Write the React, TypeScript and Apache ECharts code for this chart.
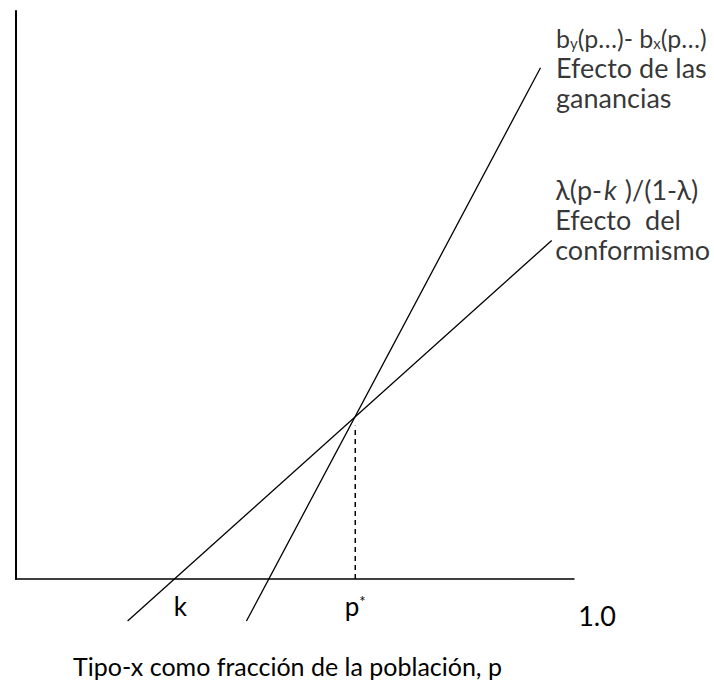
import React, { useEffect, useRef } from "react";
import * as echarts from "echarts";

// Values (p on x, effect on y)
const gananciasX = [0.413, 0.94];
const gananciasY = [-0.074, 0.9];
const conformismoX = [0.2, 0.96];
const conformismoY = [-0.074, 0.596];
const pStar = 0.608;
const pStarTop = 0.27;
const kValue = 0.284;
const tickValues = [kValue, pStar, 1.0];
const tickLabels = ["k", "p*", "1.0"];
const xTitle = "Tipo-x como fracción de la población, p";
const gananciasLabel = ["b_y(p…)- b_x(p…)", "Efecto de las", "ganancias"];
const conformismoLabel = ["λ(p-k )/(1-λ)", "Efecto  del", "conformismo"];

const FONT = "Lato, 'Noto Sans', 'DejaVu Sans', sans-serif";

function zip(xs: number[], ys: number[]) {
  return xs.map((x, i) => [x, ys[i]]);
}

export default function App() {
  const ref = useRef<HTMLDivElement>(null);
  useEffect(() => {
    if (!ref.current) return;
    const chart = echarts.init(ref.current, undefined, { renderer: "svg" });
    const makeRich = (lh: number) => ({
      t: { fontSize: 27, fontFamily: FONT, color: "#000", lineHeight: lh },
      t1: { fontSize: 25, fontFamily: FONT, color: "#000", lineHeight: lh },
      sub: { fontSize: 15, fontFamily: FONT, color: "#000", lineHeight: 13, padding: [10, 0, 0, 0], verticalAlign: "middle" },
      it: { fontSize: 27, fontFamily: FONT, color: "#000", lineHeight: lh, fontStyle: "italic", padding: [0, 1, 0, 2] },
    });
    const gLines = [
      "{t1|b}{sub|y}{t1|(p…)- b}{sub|x}{t1|(p…)}",
      "{t|" + gananciasLabel[1] + "}",
      "{t|" + gananciasLabel[2] + "}",
    ].join("\n");
    const cLines = [
      "{t|λ(p-}{it|k}{t| )/(1-λ)}",
      "{t|" + conformismoLabel[1] + "}",
      "{t|" + conformismoLabel[2] + "}",
    ].join("\n");

    const option = {
      animation: false,
      grid: { left: 16, top: 11, width: 558, height: 569, containLabel: false },
      xAxis: {
        type: "value",
        min: 0,
        max: 1,
        splitLine: { show: false },
        axisTick: { show: false },
        axisLine: { onZero: false, lineStyle: { color: "#000", width: 1.5 } },
        axisLabel: {
          customValues: tickValues,
          margin: 14,
          formatter: (v: number) => {
            const i = tickValues.findIndex((t) => Math.abs(t - v) < 1e-6);
            const s = i >= 0 ? tickLabels[i] : "";
            if (s === "p*") return "{p|p}{sup|*}";
            if (s === "1.0") return "{one|1.0}";
            if (s === "k") return "{k|k}";
            return s;
          },
          rich: {
            k: { fontSize: 26, fontFamily: FONT, color: "#000", lineHeight: 26, padding: [0, 0, 0, 12] },
            p: { fontSize: 26, fontFamily: FONT, color: "#000", lineHeight: 26 },
            sup: { fontSize: 15, fontFamily: FONT, color: "#000", lineHeight: 15, padding: [0, 0, 11, 0], verticalAlign: "middle" },
            one: { fontSize: 27, fontFamily: FONT, color: "#000", lineHeight: 27, padding: [18, 0, 0, 46] },
          },
        },
        name: xTitle,
        nameLocation: "middle",
        nameGap: 74,
        nameTextStyle: { fontSize: 25, fontFamily: FONT, color: "#000", padding: [0, 15, 0, 0] },
      },
      yAxis: {
        type: "value",
        min: 0,
        max: 1,
        splitLine: { show: false },
        axisTick: { show: false },
        axisLabel: { show: false },
        axisLine: { onZero: false, lineStyle: { color: "#000", width: 2 } },
      },
      series: [
        {
          type: "line",
          name: "ganancias",
          data: zip(gananciasX, gananciasY),
          symbol: "none",
          clip: false,
          lineStyle: { color: "#000", width: 1.3 },
        },
        {
          type: "line",
          name: "conformismo",
          data: zip(conformismoX, conformismoY),
          symbol: "none",
          clip: false,
          lineStyle: { color: "#000", width: 1.3 },
        },
        {
          type: "line",
          name: "pStar",
          data: [
            [pStar, 0],
            [pStar, pStarTop],
          ],
          symbol: "none",
          lineStyle: { color: "#000", width: 1.5, type: [5, 4] },
        },
        {
          type: "scatter",
          name: "labels",
          symbolSize: 1,
          itemStyle: { color: "rgba(0,0,0,0)" },
          silent: true,
          clip: false,
          data: [
            {
              value: [gananciasX[1], gananciasY[1]],
              label: { show: true, position: "right", distance: 15, align: "left", formatter: gLines, rich: makeRich(30), offset: [0, 0] },
            },
            {
              value: [conformismoX[1], conformismoY[1]],
              label: { show: true, position: "right", distance: 3, align: "left", formatter: cLines, rich: makeRich(30), offset: [0, -21] },
            },
          ],
        },
      ],
    };
    chart.setOption(option as any);
    return () => chart.dispose();
  }, []);
  return (
    <div
      ref={ref}
      style={{ position: "absolute", left: 0, top: 0, width: 714, height: 683, background: "#fff" }}
    />
  );
}
